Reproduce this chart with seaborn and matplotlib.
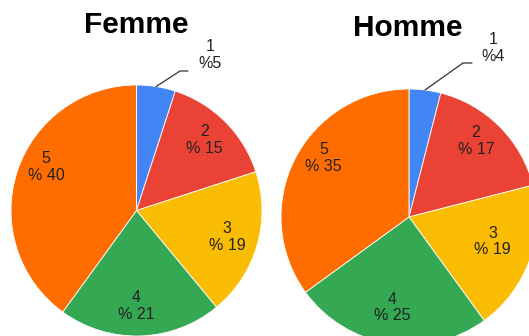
import numpy as np
import matplotlib
matplotlib.use("Agg")
import matplotlib.pyplot as plt
import seaborn as sns

# Survey answers (1-5) by gender, in percent
categories = ["1", "2", "3", "4", "5"]
femme = [5, 15, 19, 21, 40]
homme = [4, 17, 19, 25, 35]
titles = ["Femme", "Homme"]
palette = ["#4285F4", "#EA4335", "#FBBC04", "#34A853", "#FF6D01"]

sns.set_theme(style="white")
plt.rcParams["font.family"] = ["Liberation Sans", "DejaVu Sans"]

W, H = 529, 336
fig = plt.figure(figsize=(W / 100, H / 100), dpi=100)
ax = fig.add_axes([0, 0, 1, 1])
ax.set_axis_off()

# pie geometry in pixel units (y measured upward); inner labels are placed
# at (fraction of radius, angle nudge in degrees) from each wedge's middle
pies = [
    dict(values=femme, title=titles[0], center=(136.5, H - 210.5), radius=125.5,
         title_xy=(136, H - 25),
         place=[None, (0.78, 1), (0.75, 0), (0.76, -2), (0.80, -7.5)],
         call_text=(210, H - 55), call_knee=(180, H - 71), call_end=(188, H - 71)),
    dict(values=homme, title=titles[1], center=(409, H - 217), radius=128,
         title_xy=(408, H - 28),
         place=[None, (0.79, 3.5), (0.68, 3.5), (0.72, -1.7), (0.81, -7.6)],
         call_text=(493, H - 48), call_knee=(463, H - 63), call_end=(472, H - 63)),
]

for p in pies:
    cx, cy = p["center"]
    r = p["radius"]
    wedges, _ = ax.pie(p["values"], colors=palette, startangle=90, counterclock=False,
                       center=(cx, cy), radius=r,
                       wedgeprops=dict(edgecolor="white", linewidth=0.6))
    ax.text(*p["title_xy"], p["title"], ha="center", va="center",
            fontsize=21.5, fontweight="bold", color="black")
    for i, (w, cat, v) in enumerate(zip(wedges, categories, p["values"])):
        mid = (w.theta1 + w.theta2) / 2
        if i == 0:
            # small slice: label outside with a leader line
            ang = np.deg2rad(mid)
            ex, ey = cx + r * np.cos(ang), cy + r * np.sin(ang)
            kx, ky = p["call_knee"]
            fx, fy = p["call_end"]
            ax.plot([ex, kx, fx], [ey, ky, fy], color="#333333", lw=0.9)
            ax.text(*p["call_text"], f"{cat}\n%{v}", ha="center", va="center",
                    fontsize=11.5, linespacing=1.15, color="#222222")
        else:
            frac, nudge = p["place"][i]
            ang = np.deg2rad(mid + nudge)
            d = frac * r
            ax.text(cx + d * np.cos(ang), cy + d * np.sin(ang), f"{cat}\n% {v}",
                    ha="center", va="center", fontsize=11.5, linespacing=1.15,
                    color="#222222")

ax.set_aspect("auto")
ax.set_xlim(0, W)
ax.set_ylim(0, H)

fig.savefig("out.png", dpi=100, facecolor="white")
